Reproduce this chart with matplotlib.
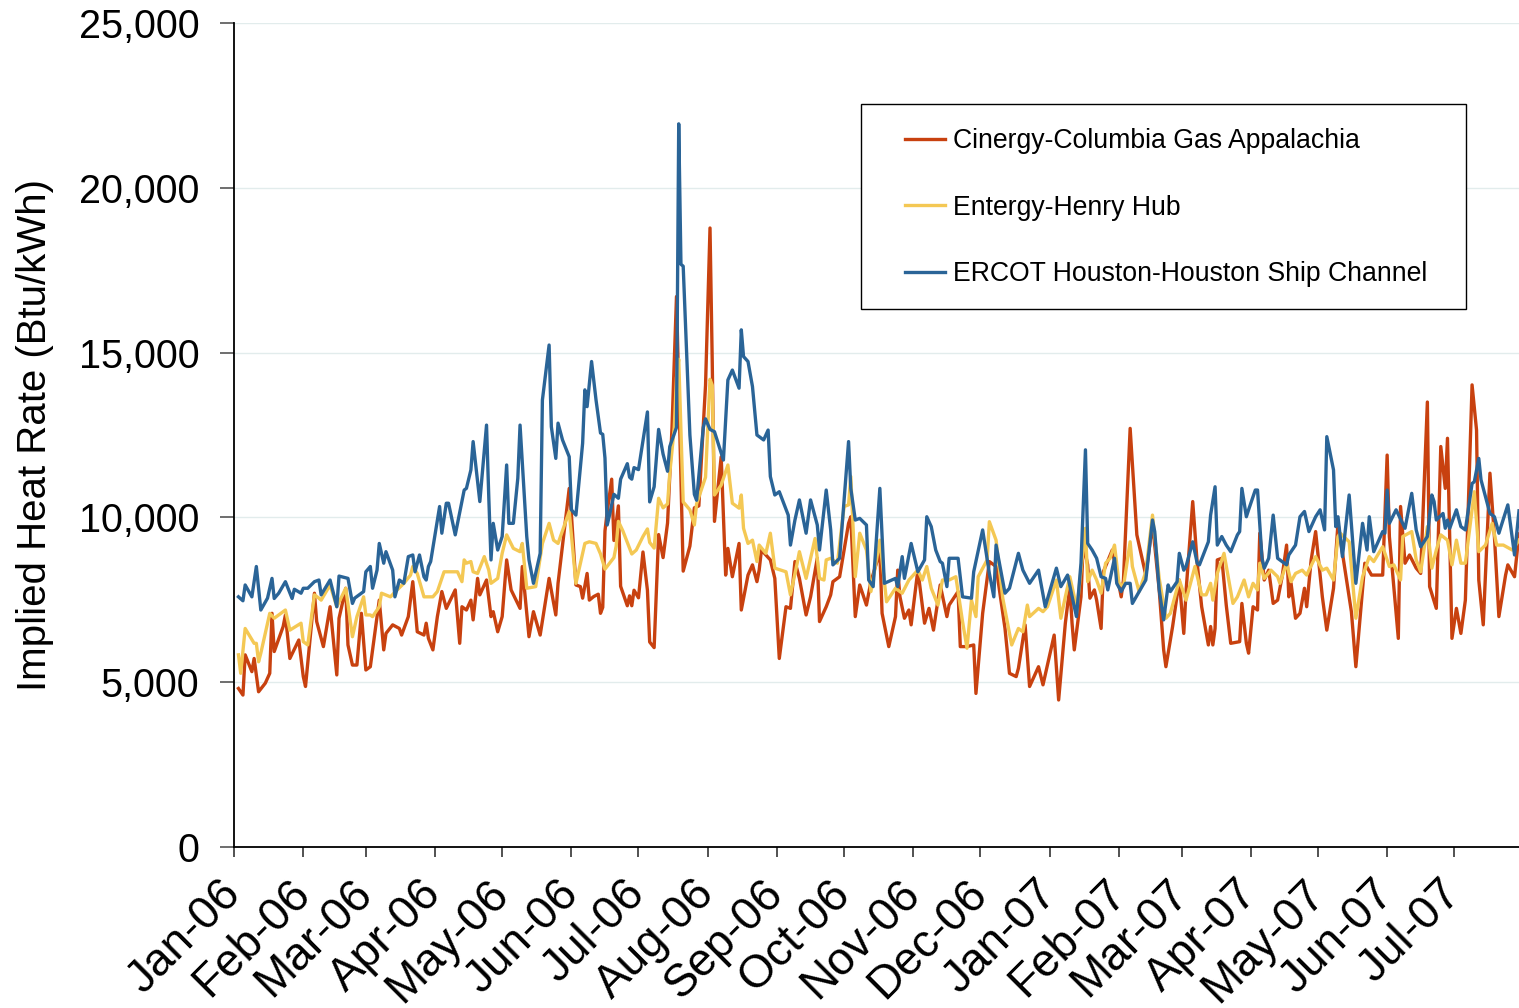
import matplotlib
matplotlib.use("Agg")
import matplotlib.pyplot as plt
from matplotlib.patches import Rectangle
from matplotlib.ticker import FuncFormatter
import pandas as pd

plt.rcParams['font.family'] = ['Liberation Sans', 'DejaVu Sans']

start_date = "2006-01-01"
end_date = "2007-07-30"

series_names = ["Cinergy-Columbia Gas Appalachia", "Entergy-Henry Hub",
                "ERCOT Houston-Houston Ship Channel"]

# days since 2006-01-01 and implied heat rate (Btu/kWh)
cinergy_day = [2, 4, 5, 8, 9, 11, 14, 16, 17, 18, 22, 23, 25, 29, 31, 32, 36, 37, 40, 43,
               46, 47, 50, 51, 53, 55, 57, 59, 61, 64, 65, 67, 68, 71, 74, 75, 78, 80, 82, 85,
               86, 87, 89, 91, 93, 95, 99, 101, 102, 104, 106, 107, 109, 110, 113, 115, 116, 118, 120, 122,
               124, 128, 129, 132, 134, 137, 141, 144, 145, 150, 151, 153, 155, 156, 158, 159, 161, 163, 164, 165,
               166, 167, 169, 170, 172, 173, 176, 177, 178, 179, 181, 183, 185, 186, 188, 190, 192, 194, 196, 198,
               201, 204, 206, 208, 211, 213, 214, 215, 218, 220, 221, 223, 226, 227, 230, 232, 234, 235, 236, 240,
               242, 244, 247, 249, 251, 253, 256, 258, 261, 262, 265, 267, 268, 271, 275, 276, 278, 280, 283, 285,
               289, 290, 293, 296, 297, 298, 300, 302, 303, 306, 309, 311, 313, 316, 319, 320, 324, 325, 328, 331,
               332, 335, 338, 340, 341, 345, 347, 350, 351, 354, 356, 360, 362, 367, 369, 372, 374, 375, 376, 379,
               380, 382, 383, 385, 386, 388, 389, 393, 395, 397, 398, 401, 404, 408, 411, 414, 416, 417, 420, 423,
               425, 426, 429, 431, 433, 436, 437, 438, 439, 440, 442, 444, 446, 450, 451, 453, 454, 456, 458, 459,
               461, 463, 465, 467, 469, 471, 472, 473, 475, 477, 479, 480, 482, 484, 487, 489, 492, 494, 495, 500,
               502, 506, 509, 514, 516, 517, 521, 522, 524, 526, 529, 531, 534, 535, 538, 540, 542, 543, 545, 547,
               549, 551, 554, 556, 557, 559, 562, 564, 566, 569, 570, 573, 575]
cinergy_val = [4810, 4610, 5830, 5320, 5720, 4710, 4970, 5270, 7090, 5930, 6690, 7040, 5720, 6280, 5170, 4870, 7700, 6840, 6080, 7290,
               5220, 6940, 7850, 6130, 5520, 5520, 7090, 5370, 5470, 6990, 7490, 5980, 6480, 6740, 6630, 6430, 6990, 8050, 6530, 6430,
               6790, 6330, 5980, 6990, 7750, 7240, 7800, 6180, 7290, 7190, 7490, 6890, 8150, 7650, 8100, 6990, 7140, 6530, 6990, 8710,
               7800, 7240, 8510, 6380, 7140, 6430, 8150, 7040, 8000, 10880, 10070, 7950, 7900, 7550, 8300, 7490, 7600, 7670, 7090, 7270,
               9590, 10170, 11160, 9300, 10350, 7910, 7320, 7620, 7320, 7790, 7560, 8950, 7790, 6220, 6050, 9480, 8780, 9830, 12730, 16700,
               8370, 9130, 10290, 10350, 14010, 18780, 14710, 9880, 11840, 8250, 9060, 8200, 9210, 7190, 8250, 8560, 8050, 8400, 9010, 8710,
               8150, 5720, 7290, 7240, 8660, 8150, 7040, 7590, 8760, 6840, 7290, 7650, 8050, 8200, 9820, 10020, 6990, 7950, 7340, 8050,
               8960, 7090, 6080, 6990, 8400, 7590, 6940, 7190, 6740, 8400, 6790, 7240, 6580, 7950, 6990, 7340, 7750, 6080, 6080, 6130,
               4660, 7090, 8660, 8560, 8510, 6630, 5270, 5170, 5420, 6740, 4870, 5470, 4920, 6430, 4460, 6790, 7900, 6790, 5980, 7590,
               9210, 8560, 7550, 7800, 7490, 6630, 8350, 9010, 8300, 7590, 8100, 12700, 9470, 8250, 9820, 7800, 5980, 5470, 6690, 8100,
               6480, 7750, 10480, 8610, 7290, 6130, 6690, 6130, 6630, 8710, 8760, 7340, 6180, 6230, 7390, 6180, 5880, 7290, 7190, 9520,
               8100, 8400, 7390, 7490, 8200, 9160, 7590, 8000, 6940, 7090, 7850, 7290, 8710, 9570, 7590, 6580, 7850, 9820, 9360, 7140,
               5470, 8610, 8250, 8250, 11890, 9420, 6330, 10330, 8610, 8860, 8460, 8300, 13500, 7900, 7240, 12150, 10880, 12400, 6330, 7240,
               6480, 7490, 14020, 12650, 8100, 6740, 11340, 9420, 6990, 8250, 8560, 8200, 9500]

entergy_day = [2, 3, 5, 9, 10, 11, 12, 16, 18, 23, 25, 30, 31, 33, 36, 38, 39, 43, 46, 50,
               53, 55, 58, 59, 61, 62, 65, 66, 70, 73, 76, 79, 80, 82, 85, 86, 89, 91, 94, 97,
               100, 102, 103, 104, 106, 107, 109, 112, 114, 115, 118, 120, 122, 125, 128, 129, 131, 135, 138, 141,
               143, 145, 150, 153, 157, 159, 162, 164, 166, 170, 171, 172, 174, 178, 180, 183, 185, 186, 188, 190,
               192, 194, 195, 197, 198, 199, 201, 204, 206, 207, 211, 213, 214, 215, 218, 221, 223, 226, 227, 228,
               230, 232, 234, 235, 238, 240, 242, 247, 249, 252, 253, 256, 258, 260, 262, 264, 265, 267, 270, 273,
               275, 276, 278, 280, 283, 285, 289, 292, 296, 299, 302, 306, 308, 310, 312, 315, 317, 320, 323, 326,
               328, 330, 332, 333, 337, 338, 341, 344, 348, 351, 353, 355, 356, 360, 362, 364, 368, 370, 372, 374,
               376, 377, 379, 381, 382, 384, 386, 388, 390, 392, 394, 396, 398, 401, 402, 405, 408, 411, 414, 417,
               419, 423, 426, 428, 430, 433, 435, 437, 438, 440, 443, 445, 447, 449, 452, 454, 456, 458, 459, 461,
               464, 467, 468, 471, 473, 475, 478, 480, 481, 484, 487, 489, 492, 494, 495, 499, 502, 505, 508, 510,
               514, 517, 519, 522, 523, 527, 529, 531, 534, 536, 538, 540, 543, 545, 547, 549, 551, 555, 557, 560,
               563, 565, 568, 572, 575]
entergy_val = [5830, 5270, 6630, 6180, 6180, 5620, 5880, 7090, 6940, 7190, 6580, 6790, 6230, 6130, 7650, 7550, 7490, 7950, 7290, 7850,
               6380, 6990, 7590, 7040, 7040, 6990, 7290, 7700, 7590, 7800, 8000, 8250, 8510, 8300, 7590, 7590, 7590, 7750, 8350, 8350,
               8350, 8050, 8710, 8610, 8660, 8350, 8300, 8810, 8400, 8000, 8150, 8910, 9470, 9060, 8960, 9210, 7850, 7900, 9210, 9820,
               9310, 9210, 10180, 8000, 9210, 9260, 9210, 8890, 8430, 8780, 9130, 9880, 9590, 8890, 9010, 9420, 9650, 9240, 9070, 10580,
               10290, 10410, 11340, 12730, 14240, 14800, 10470, 10230, 9770, 10410, 11220, 14190, 14010, 10680, 10980, 11590, 10430, 10280, 10680, 9670,
               9210, 9310, 8660, 9160, 8910, 9520, 8460, 8350, 7650, 8610, 8960, 8150, 8760, 9360, 8150, 8100, 8710, 8760, 8610, 10330,
               10380, 11240, 8200, 9520, 9010, 7750, 9310, 7440, 7850, 7700, 8100, 8400, 8100, 8510, 7850, 7340, 8100, 8100, 8200, 6840,
               6030, 7490, 6990, 8200, 8710, 9870, 9310, 7550, 6130, 6630, 6530, 7340, 6990, 7240, 7140, 7290, 8100, 6940, 7590, 8200,
               7590, 7090, 8400, 9670, 8050, 8400, 8100, 7700, 8610, 8760, 9160, 8000, 7900, 9260, 8510, 7750, 8350, 10070, 8150, 6940,
               7090, 8100, 7490, 8000, 8510, 7650, 7650, 8000, 7490, 8300, 8910, 8150, 7390, 7590, 8100, 7590, 8000, 7800, 8610, 8150,
               8400, 8200, 8000, 8610, 8050, 8300, 8400, 8250, 8400, 8810, 8400, 8460, 8100, 9420, 9520, 9260, 6940, 8200, 8810, 8660,
               9110, 8510, 8560, 8100, 9420, 9570, 8710, 8350, 9720, 8460, 9010, 9470, 9310, 8560, 9310, 8610, 8610, 10780, 8960, 9160,
               9820, 9160, 9160, 9010, 9310]

ercot_day = [2, 4, 5, 8, 10, 12, 15, 17, 18, 20, 23, 26, 27, 30, 31, 33, 36, 38, 39, 43,
             46, 47, 51, 53, 54, 58, 59, 61, 62, 64, 65, 67, 68, 71, 72, 74, 76, 78, 80, 81,
             83, 85, 86, 87, 88, 92, 93, 95, 96, 99, 103, 104, 106, 107, 110, 113, 114, 115, 116, 118,
             120, 122, 123, 125, 127, 128, 131, 132, 134, 137, 138, 141, 142, 144, 145, 147, 150, 151, 153, 156,
             157, 158, 160, 162, 164, 165, 166, 167, 168, 170, 172, 173, 176, 177, 178, 179, 181, 185, 186, 188,
             190, 192, 194, 195, 198, 199, 200, 201, 204, 206, 207, 210, 211, 213, 215, 219, 221, 223, 226, 227,
             228, 230, 232, 234, 237, 239, 240, 242, 244, 248, 249, 251, 253, 256, 258, 261, 262, 265, 267, 268,
             271, 275, 276, 278, 280, 283, 284, 286, 289, 291, 296, 297, 299, 300, 303, 306, 309, 310, 312, 314,
             316, 317, 319, 320, 324, 326, 330, 331, 335, 338, 340, 341, 345, 347, 351, 353, 356, 360, 363, 368,
             370, 373, 376, 377, 379, 381, 382, 384, 386, 388, 390, 391, 394, 395, 397, 399, 401, 402, 408, 411,
             412, 414, 416, 418, 419, 422, 423, 425, 426, 429, 431, 432, 436, 437, 439, 440, 442, 444, 446, 449,
             450, 451, 453, 454, 457, 458, 460, 461, 463, 465, 467, 469, 471, 472, 475, 477, 479, 481, 484, 486,
             488, 489, 492, 493, 494, 496, 499, 502, 505, 507, 508, 510, 514, 515, 516, 517, 520, 524, 527, 529,
             531, 534, 536, 537, 538, 541, 542, 543, 544, 547, 549, 551, 554, 555, 557, 558, 562, 564, 566, 570,
             573, 575]
ercot_val = [7590, 7470, 7950, 7590, 8510, 7190, 7550, 8150, 7540, 7700, 8050, 7540, 7820, 7700, 7850, 7850, 8050, 8100, 7650, 8100,
             7290, 8220, 8150, 7390, 7550, 7750, 8350, 8510, 7850, 8400, 9210, 8610, 8960, 8400, 7590, 8100, 8000, 8810, 8860, 8350,
             8860, 8200, 8100, 8510, 8660, 10330, 9520, 10430, 10430, 9470, 10830, 10880, 11440, 12300, 10480, 12800, 10630, 8710, 9820, 9010,
             9420, 11590, 9820, 9820, 11190, 12800, 9420, 8710, 8000, 8910, 13560, 15230, 12750, 11790, 12860, 12350, 11840, 10230, 10070, 12250,
             13870, 13360, 14730, 13560, 12560, 12520, 11800, 9770, 10060, 10700, 10580, 11160, 11630, 11220, 11160, 11510, 11450, 13200, 10470, 10930,
             12670, 11920, 11400, 12150, 12730, 21940, 17680, 17620, 12500, 10700, 10520, 12730, 12990, 12670, 12600, 11740, 14170, 14470, 13920, 15690,
             14880, 14730, 13970, 12500, 12350, 12650, 11240, 10680, 10780, 10070, 9160, 9920, 10530, 9520, 10530, 9770, 9010, 10830, 9620, 8560,
             8760, 12300, 10880, 9920, 9970, 9770, 8100, 7900, 10880, 8000, 8150, 7900, 8810, 8150, 9210, 8350, 8710, 10020, 9720, 9010,
             8660, 8610, 7900, 8760, 8760, 7590, 7550, 8350, 9620, 8300, 7590, 9160, 7700, 7850, 8910, 8400, 8000, 8400, 7290, 8460,
             7900, 8250, 7290, 6990, 8610, 12050, 9210, 9010, 8760, 8200, 8150, 7800, 8760, 8000, 7750, 8000, 8000, 7390, 8100, 9920,
             9570, 7800, 6890, 7950, 7750, 8050, 8910, 8400, 8510, 9260, 8610, 8560, 9260, 10070, 10930, 9160, 9420, 9160, 8960, 9470,
             9570, 10880, 10020, 10230, 10830, 10830, 8760, 8460, 8760, 10070, 8760, 8660, 8560, 8860, 9160, 10020, 10180, 9570, 10020, 10230,
             9620, 12450, 11440, 9720, 10020, 8810, 10680, 8000, 9820, 9010, 10020, 8960, 9570, 9520, 10830, 9820, 10230, 9670, 10730, 9620,
             9110, 9420, 10680, 10480, 9920, 10120, 9670, 9920, 9670, 10230, 9720, 9620, 11030, 11080, 11790, 11140, 10120, 10020, 9520, 10380,
             8860, 10200]

month_ticks = pd.date_range("2006-01-01", "2007-07-01", freq="MS")
month_labels = [d.strftime("%b-%y") for d in month_ticks]
y_ticks = [0, 5000, 10000, 15000, 20000, 25000]

colors = ["#C8410F", "#F4C854", "#2A6497"]

W, H = 1519, 1008
fig = plt.figure(figsize=(W / 100, H / 100), dpi=100)
ax = fig.add_axes([234 / W, 1 - 847 / H, (1519 - 234) / W, (847 - 23) / H])

t0 = pd.Timestamp(start_date)
for days, vals, c, name in zip([cinergy_day, entergy_day, ercot_day],
                               [cinergy_val, entergy_val, ercot_val],
                               colors, series_names):
    dates = t0 + pd.to_timedelta(days, unit="D")
    ax.plot(dates, vals, color=c, lw=2.4, label=name, solid_joinstyle="round", zorder=3)

ax.set_xlim(pd.Timestamp(start_date), pd.Timestamp(end_date))
ax.set_ylim(0, 25000)
ax.set_xticks(month_ticks)
ax.set_xticklabels(month_labels, rotation=45, ha="right", va="center",
                   rotation_mode="anchor", fontsize=33)
ax.set_yticks(y_ticks)
ax.yaxis.set_major_formatter(FuncFormatter(lambda v, p: f"{int(v):,}"))
ax.tick_params(axis="y", labelsize=28.5, length=10, width=1.2, pad=15, direction="out", color="#555555")
ax.tick_params(axis="x", length=7, width=1.2, pad=22, direction="out", color="#333333")
ax.grid(axis="y", color="#E2ECEC", lw=1.0, zorder=0)
ax.set_axisbelow(True)
for s in ["top", "right"]:
    ax.spines[s].set_visible(False)
for s in ["left", "bottom"]:
    ax.spines[s].set_color("black")
    ax.spines[s].set_linewidth(1.3)

ax.set_ylabel("Implied Heat Rate (Btu/kWh)", fontsize=29, labelpad=18)

# legend box
box = Rectangle((861 / W, 1 - 309 / H), (1466 - 861) / W, (309 - 104) / H,
                transform=fig.transFigure, facecolor="white",
                edgecolor="black", lw=1.0, zorder=5, clip_on=False)
ax.add_patch(box)
leg = ax.legend(loc="upper left", bbox_to_anchor=(905 / W, 1 - 128 / H),
                bbox_transform=fig.transFigure, frameon=False, fontsize=19.2,
                handlelength=1.5, handletextpad=0.3, labelspacing=1.52,
                borderpad=0, borderaxespad=0)
leg.set_zorder(6)
for line in leg.get_lines():
    line.set_linewidth(2.4)

fig.savefig("out.png", dpi=100)
